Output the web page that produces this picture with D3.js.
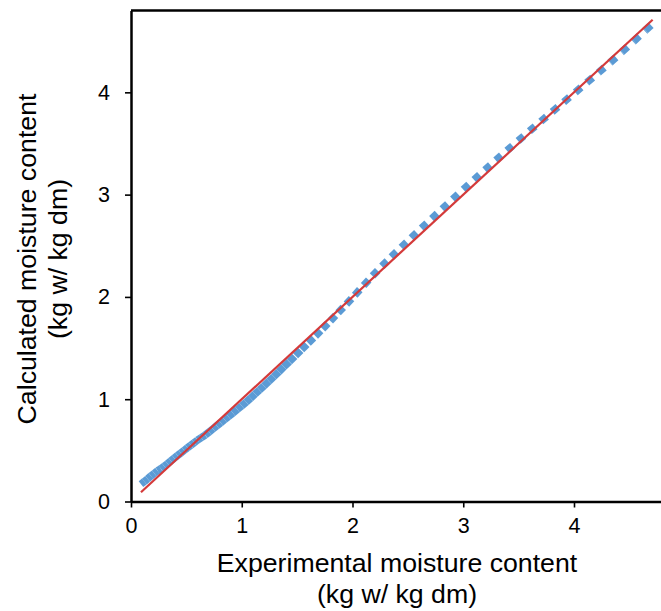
<!DOCTYPE html>
<html><head><meta charset="utf-8">
<script src="https://cdn.jsdelivr.net/npm/d3@7"></script>
<style>body{margin:0;background:#fff}</style>
</head><body><svg id="c" width="661" height="611"></svg>
<script>
const expMoisture = [0.09,0.12,0.15,0.18,0.21,0.24,0.27,0.30,0.33,0.36,0.39,0.42,0.45,0.48,0.51,0.54,0.57,0.60,0.635,0.67,0.705,0.74,0.775,0.81,0.845,0.88,0.92,0.96,
  1.00,1.04,1.08,1.12,1.16,1.20,1.245,1.29,1.335,1.38,1.43,1.485,1.54,1.60,1.665,1.73,1.80,1.87,1.945,2.02,
  2.10,2.18,2.265,2.35,2.44,2.53,2.622,2.715,2.809,2.904,3.0,3.097,3.195,3.294,3.394,3.495,3.597,3.70,3.803,3.907,
  4.012,4.117,4.222,4.328,4.434,4.54,4.646,4.71];
const calcMoisture = [0.17,0.195,0.222,0.25,0.275,0.30,0.32,0.345,0.37,0.397,0.424,0.45,0.475,0.50,0.525,0.55,0.575,0.60,0.625,0.65,0.68,0.71,0.74,0.77,0.80,0.83,0.865,0.90,
  0.935,0.972,1.01,1.05,1.09,1.13,1.175,1.221,1.268,1.316,1.368,1.426,1.485,1.55,1.618,1.688,1.765,1.845,1.93,2.017,
  2.112,2.205,2.30,2.39,2.484,2.577,2.671,2.765,2.859,2.954,3.05,3.145,3.24,3.335,3.43,3.525,3.62,3.715,3.81,3.905,
  4.0,4.097,4.194,4.293,4.396,4.50,4.606,4.67];
const refX = [0.09, 4.71];
const refY = [0.09, 4.71];
const xTickValues = [0,1,2,3,4];
const yTickValues = [0,1,2,3,4];
const xTitle = ["Experimental moisture content","(kg w/ kg dm)"];
const yTitle = ["Calculated moisture content","(kg w/ kg dm)"];

const FONT = "'Liberation Sans', Arial, sans-serif";
const svg = d3.select("#c");
const x = d3.scaleLinear().domain([0,4.8]).range([131, 662.6]);
const y = d3.scaleLinear().domain([0,4.8]).range([501.5, 10.5]);

// blue series: each segment restarts the dash pattern
const pts = expMoisture.map((v,i)=>[v, calcMoisture[i]]);
const line = d3.line().x(d=>x(d[0])).y(d=>y(d[1]));
const segs = d3.pairs(pts);
svg.append("g").selectAll("path").data(segs).join("path")
  .attr("d", d=>line(d))
  .attr("fill","none").attr("stroke","#5B9BD5")
  .attr("stroke-width",7.5).attr("stroke-dasharray","7.5,7.5")
  .attr("stroke-linecap","butt");

// red reference line
svg.append("path").datum(refX.map((v,i)=>[v, refY[i]]))
  .attr("d", line).attr("fill","none").attr("stroke","#D43A3A").attr("stroke-width",2.2);

// frame top/right
svg.append("line").attr("x1",x(0)).attr("x2",x(4.8)).attr("y1",y(4.8)).attr("y2",y(4.8))
  .attr("stroke","#000").attr("stroke-width",2.3);
svg.append("line").attr("x1",x(4.8)).attr("x2",x(4.8)).attr("y1",y(0)).attr("y2",y(4.8))
  .attr("stroke","#000").attr("stroke-width",2.3);

const xa = svg.append("g").attr("transform",`translate(0,${y(0)})`)
  .call(d3.axisBottom(x).tickValues(xTickValues).tickSize(6).tickSizeOuter(0).tickPadding(10).tickFormat(d3.format("d")));
const ya = svg.append("g").attr("transform",`translate(${x(0)},0)`)
  .call(d3.axisLeft(y).tickValues(yTickValues).tickSize(6).tickSizeOuter(0).tickPadding(15).tickFormat(d3.format("d")));
[xa,ya].forEach(g=>{
  g.select(".domain").attr("stroke","#000").attr("stroke-width",2.5);
  g.selectAll(".tick line").attr("stroke","#000").attr("stroke-width",1.6);
  g.selectAll(".tick text").attr("fill","#000").style("font-family",FONT).style("font-size","21.5px");
});

svg.append("text").attr("x",397).attr("y",572).attr("text-anchor","middle")
  .style("font-family",FONT).style("font-size","26.7px").text(xTitle[0]);
svg.append("text").attr("x",397).attr("y",603).attr("text-anchor","middle")
  .style("font-family",FONT).style("font-size","26.7px").text(xTitle[1]);
svg.append("text").attr("transform","translate(36,259) rotate(-90)").attr("text-anchor","middle")
  .style("font-family",FONT).style("font-size","26.7px").text(yTitle[0]);
svg.append("text").attr("transform","translate(67,259) rotate(-90)").attr("text-anchor","middle")
  .style("font-family",FONT).style("font-size","26.7px").text(yTitle[1]);
</script></body></html>
